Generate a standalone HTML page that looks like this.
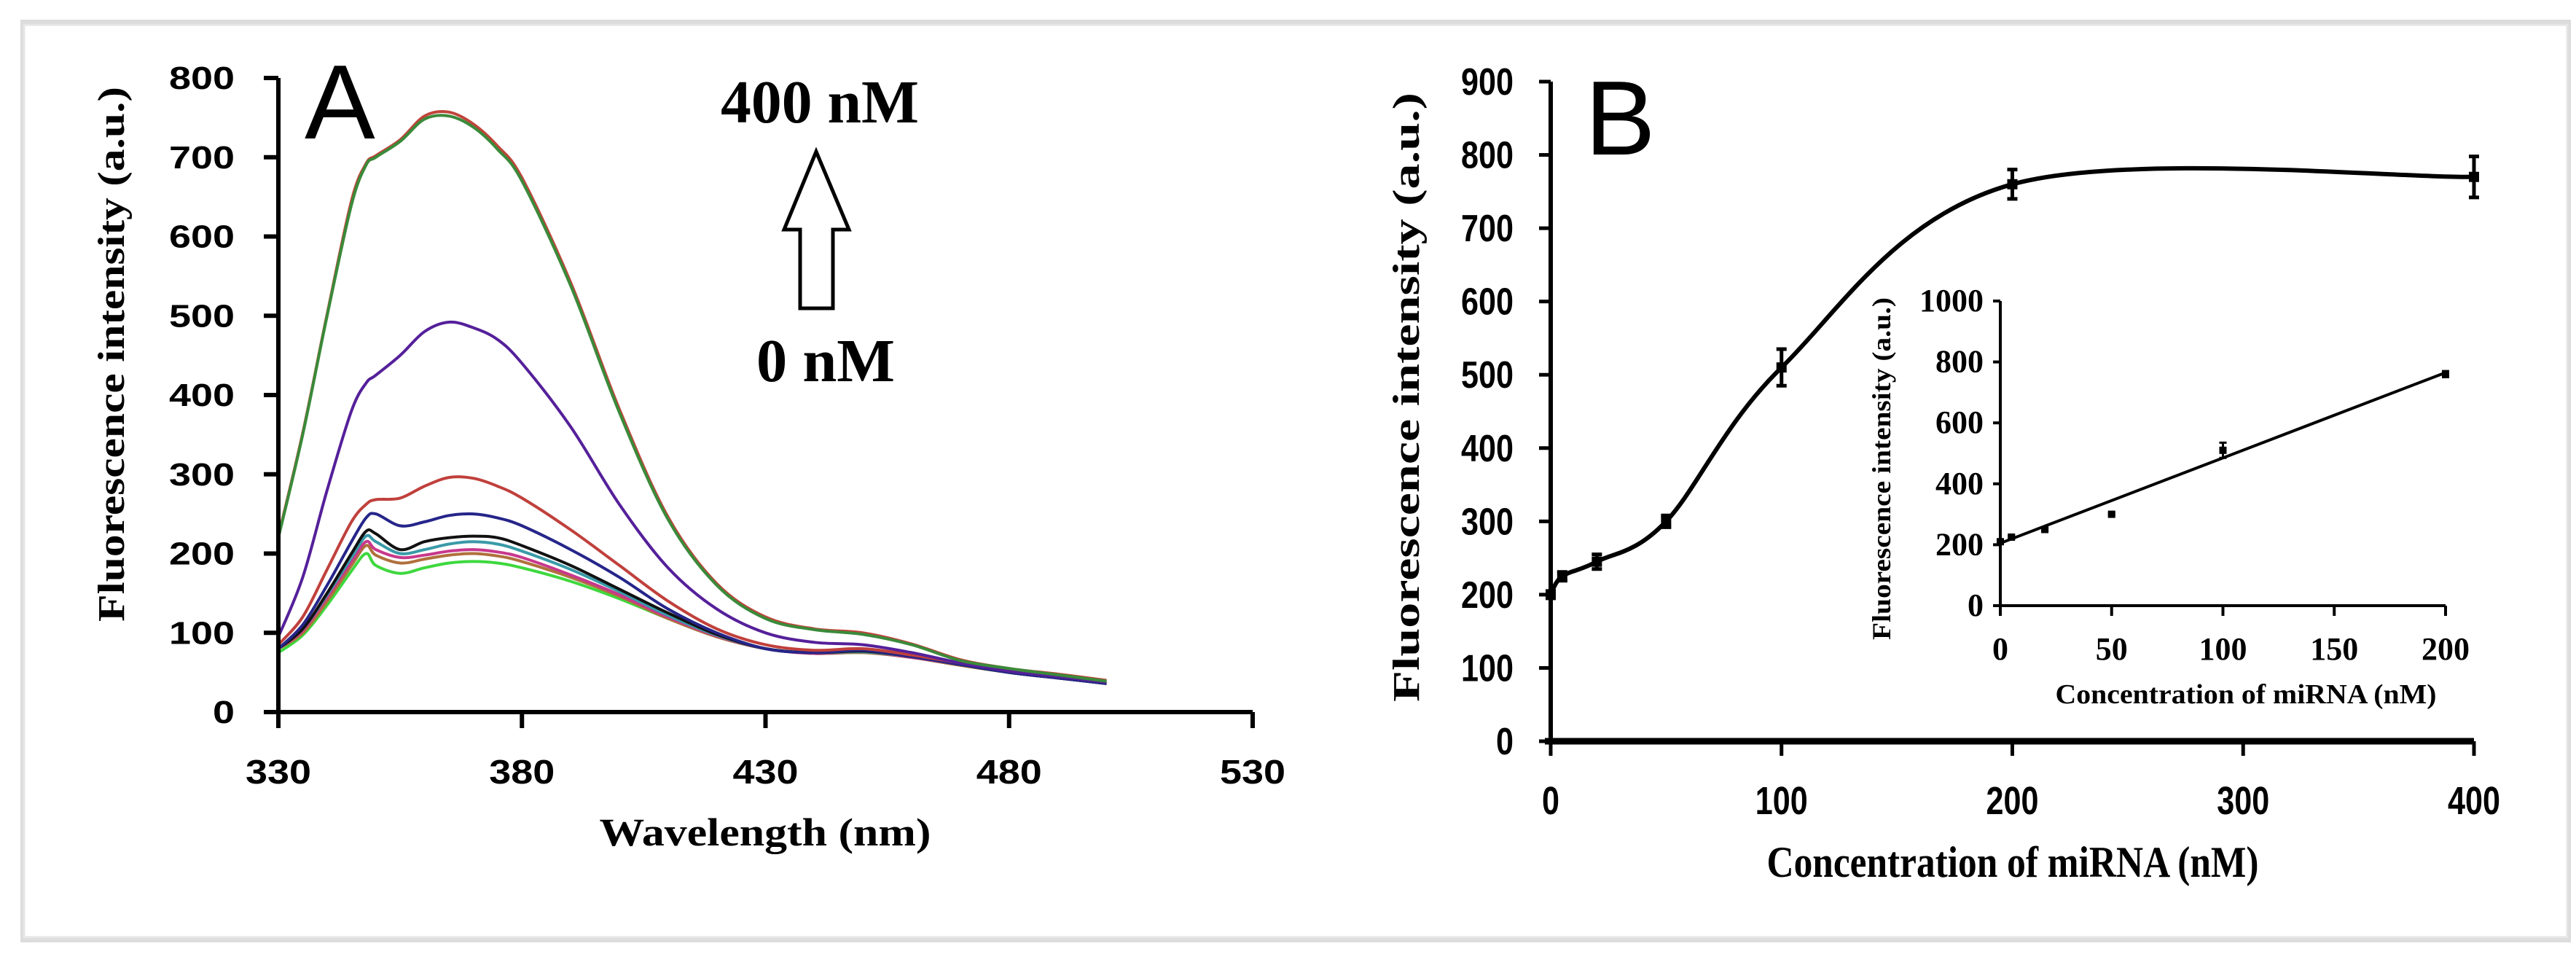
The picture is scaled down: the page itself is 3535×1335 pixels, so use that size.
<!DOCTYPE html>
<html><head><meta charset="utf-8"><style>
html,body{margin:0;padding:0;background:#fff;}
svg{display:block;}
</style></head><body>
<svg id="fig" width="3535" height="1335" viewBox="0 0 3535 1335" xmlns="http://www.w3.org/2000/svg">
<rect x="28" y="27" width="3500" height="1266" fill="#dcdcdc"/>
<rect x="33" y="34" width="3490" height="1252" fill="#fff" stroke="#e6e6e6" stroke-width="3"/>
<g id="pa"></g>
<g id="pb"></g>
<g id="pi"></g>
</svg>
<script>
// ---------- Panel A data ----------
const wavelengths=[330,335,340,345,348,350,355,360,365,370,375,380,390,400,410,420,430,440,450,460,470,480,490,500];
const s400=[222,352,502,645,692,702,722,752,757,742,714,674,542,382,246,162,120,105,100,86,66,55,48,40];
const s200=[220,350,500,640,690,700,720,748,752,738,710,670,538,378,243,160,118,104,98,85,65,55,47,39];
const s100=[95,170,280,380,415,425,450,480,492,485,470,440,360,262,182,130,100,88,85,75,62,52,45,38];
const s50=[85,120,180,240,262,268,270,285,296,295,285,270,230,185,140,105,85,78,80,72,62,52,45,38];
const s20=[80,110,160,215,245,250,235,240,248,250,245,235,205,170,130,100,80,75,78,70,60,50,43,36];
const s10=[80,105,150,200,228,225,205,215,220,222,220,210,185,155,125,98,80,75,77,70,60,50,43,36];
const s5=[80,105,148,195,222,215,200,205,212,215,212,203,180,152,122,97,80,75,76,70,60,50,43,36];
const s2=[80,103,145,190,215,205,195,198,203,205,202,195,173,148,120,96,80,74,76,69,60,50,43,36];
const s1=[80,100,140,185,210,198,188,193,198,200,197,190,170,146,118,95,80,74,75,69,59,50,43,36];
const s0=[75,97,135,178,200,185,175,182,188,190,188,182,165,143,118,95,80,74,75,69,59,50,43,36];
const seriesA=[s0,s1,s2,s5,s10,s20,s50,s100,s400,s200];
const seriesNames=['0-nm','1-nm','2-nm','5-nm','10-nm','20-nm','50-nm','100-nm','400-nm','200-nm'];
const colorsA=['#3ed83e','#b0703c','#c8388c','#3a9aa8','#111111','#25258a','#c0403c','#55209a','#c0443a','#3a8a3a'];
const xTicksA=[330,380,430,480,530];
const yTicksA=[0,100,200,300,400,500,600,700,800];
// ---------- Panel B data ----------
const conc=[0,5,20,50,100,200,400];
const intensity=[200,225,245,300,510,760,770];
const errB=[5,6,10,8,25,20,28];
const xTicksB=[0,100,200,300,400];
const yTicksB=[0,100,200,300,400,500,600,700,800,900];
// ---------- Inset data ----------
const concIn=[0,5,20,50,100,200];
const intensityIn=[210,225,250,300,510,760];
const errIn=[4,4,4,4,25,10];
const fitIn=[205,765];
const xTicksIn=[0,50,100,150,200];
const yTicksIn=[0,200,400,600,800,1000];

const NS='http://www.w3.org/2000/svg';
function mk(parent,tag,attrs,text){const e=document.createElementNS(NS,tag);for(const k in attrs)e.setAttribute(k,attrs[k]);if(text!==undefined)e.textContent=text;parent.appendChild(e);return e;}
function smooth(pts){
  let d='M'+pts[0][0].toFixed(1)+' '+pts[0][1].toFixed(1);
  for(let i=0;i<pts.length-1;i++){
    const p0=pts[Math.max(0,i-1)],p1=pts[i],p2=pts[i+1],p3=pts[Math.min(pts.length-1,i+2)];
    const t=0.5;
    const c1=[p1[0]+(p2[0]-p0[0])*t/3,p1[1]+(p2[1]-p0[1])*t/3];
    const c2=[p2[0]-(p3[0]-p1[0])*t/3,p2[1]-(p3[1]-p1[1])*t/3];
    d+=` C${c1[0].toFixed(1)} ${c1[1].toFixed(1)} ${c2[0].toFixed(1)} ${c2[1].toFixed(1)} ${p2[0].toFixed(1)} ${p2[1].toFixed(1)}`;
  }
  return d;
}

// ---------- Panel A ----------
const pa=document.getElementById('pa');
const xA=v=>382+(v-330)*(1719-382)/200;
const yA=v=>977-v*(977-107)/800;
let e;
for(let i=0;i<seriesA.length;i++){
  const d=smooth(wavelengths.map((w,j)=>[xA(w),yA(seriesA[i][j])]));
  e=mk(pa,'path',{d:d,fill:'none',stroke:colorsA[i],'stroke-width':4,'stroke-linejoin':'round'});
  
  
}
e=mk(pa,'path',{d:`M${xA(330)} ${yA(800)} L${xA(330)} ${yA(0)} L${xA(530)} ${yA(0)}`,fill:'none',stroke:'#000','stroke-width':6});

yTicksA.forEach(v=>{
  mk(pa,'line',{x1:xA(330)-20,x2:xA(330),y1:yA(v),y2:yA(v),stroke:'#000','stroke-width':6});
  e=mk(pa,'text',{x:322,y:yA(v)+15,'text-anchor':'end','font-family':'Liberation Sans, sans-serif','font-weight':'bold','font-size':44,textLength:String(v).length*30,lengthAdjust:'spacingAndGlyphs'},String(v));
  
});
xTicksA.forEach(v=>{
  mk(pa,'line',{x1:xA(v),x2:xA(v),y1:yA(0),y2:yA(0)+22,stroke:'#000','stroke-width':6});
  e=mk(pa,'text',{x:xA(v),y:1075,'text-anchor':'middle','font-family':'Liberation Sans, sans-serif','font-weight':'bold','font-size':46,textLength:90,lengthAdjust:'spacingAndGlyphs'},String(v));
  
});
e=mk(pa,'text',{x:1050,y:1160,'text-anchor':'middle','font-family':'Liberation Serif, serif','font-weight':'bold','font-size':54,textLength:455,lengthAdjust:'spacingAndGlyphs'},'Wavelength (nm)');

e=mk(pa,'text',{x:0,y:0,transform:'translate(170,486) rotate(-90)','text-anchor':'middle','font-family':'Liberation Serif, serif','font-weight':'bold','font-size':52,textLength:734,lengthAdjust:'spacingAndGlyphs'},'Fluorescence intensity (a.u.)');

e=mk(pa,'text',{x:418,y:190,'font-family':'Liberation Sans, sans-serif','font-size':145},'A');

e=mk(pa,'text',{x:1261,y:168,'text-anchor':'end','font-family':'Liberation Serif, serif','font-weight':'bold','font-size':84,textLength:272,lengthAdjust:'spacingAndGlyphs'},'400 nM');

e=mk(pa,'text',{x:1038,y:523,'font-family':'Liberation Serif, serif','font-weight':'bold','font-size':84,textLength:190,lengthAdjust:'spacingAndGlyphs'},'0 nM');

e=mk(pa,'path',{d:'M1120 208 L1165 315 L1143 315 L1143 423 L1098 423 L1098 315 L1076 315 Z',fill:'#fff',stroke:'#000','stroke-width':5,'stroke-linejoin':'miter'});


// ---------- Panel B ----------
const pb=document.getElementById('pb');
const xB=v=>2128+v*(3395-2128)/400;
const yB=v=>1017-v*(1017-112)/900;
e=mk(pb,'path',{d:smooth(conc.map((c,i)=>[xB(c),yB(intensity[i])])),fill:'none',stroke:'#000','stroke-width':6});

conc.forEach((c,i)=>{
  const x=xB(c),y=yB(intensity[i]),h=errB[i]*(1017-112)/900;
  e=mk(pb,'path',{d:`M${x} ${y-h} L${x} ${y+h} M${x-7} ${y-h} L${x+7} ${y-h} M${x-7} ${y+h} L${x+7} ${y+h}`,stroke:'#000','stroke-width':5,fill:'none'});
  
  e=mk(pb,'rect',{x:x-7,y:y-7,width:14,height:14,fill:'#000'});
  
});
e=mk(pb,'path',{d:`M${xB(0)} ${yB(900)} L${xB(0)} ${yB(0)} L${xB(400)} ${yB(0)}`,fill:'none',stroke:'#000','stroke-width':6});

mk(pb,'line',{x1:xB(0)-8,x2:xB(400),y1:yB(0),y2:yB(0),stroke:'#000','stroke-width':9});
yTicksB.forEach(v=>{
  mk(pb,'line',{x1:xB(0)-16,x2:xB(0),y1:yB(v),y2:yB(v),stroke:'#000','stroke-width':5});
  e=mk(pb,'text',{x:2077,y:yB(v)+18,'text-anchor':'end','font-family':'Liberation Sans, sans-serif','font-weight':'bold','font-size':52,textLength:String(v).length*24,lengthAdjust:'spacingAndGlyphs'},String(v));
  
});
xTicksB.forEach(v=>{
  mk(pb,'line',{x1:xB(v),x2:xB(v),y1:yB(0),y2:yB(0)+20,stroke:'#000','stroke-width':5});
  e=mk(pb,'text',{x:xB(v),y:1117,'text-anchor':'middle','font-family':'Liberation Sans, sans-serif','font-weight':'bold','font-size':54,textLength:String(v).length*24,lengthAdjust:'spacingAndGlyphs'},String(v));
  
});
e=mk(pb,'text',{x:2762,y:1203,'text-anchor':'middle','font-family':'Liberation Serif, serif','font-weight':'bold','font-size':60,textLength:675,lengthAdjust:'spacingAndGlyphs'},'Concentration of miRNA (nM)');

e=mk(pb,'text',{x:0,y:0,transform:'translate(1947,545) rotate(-90)','text-anchor':'middle','font-family':'Liberation Serif, serif','font-weight':'bold','font-size':52,textLength:836,lengthAdjust:'spacingAndGlyphs'},'Fluorescence intensity (a.u.)');

e=mk(pb,'text',{x:2175,y:212,'font-family':'Liberation Sans, sans-serif','font-size':145},'B');


// ---------- Inset ----------
const pi=document.getElementById('pi');
const xI=v=>2745+v*(3356-2745)/200;
const yI=v=>831-v*(831-413)/1000;
e=mk(pi,'line',{x1:xI(0),y1:yI(fitIn[0]),x2:xI(200),y2:yI(fitIn[1]),stroke:'#000','stroke-width':4});

concIn.forEach((c,i)=>{
  const x=xI(c),y=yI(intensityIn[i]),h=errIn[i]*(831-413)/1000;
  e=mk(pi,'path',{d:`M${x} ${y-h} L${x} ${y+h} M${x-5} ${y-h} L${x+5} ${y-h} M${x-5} ${y+h} L${x+5} ${y+h}`,stroke:'#000','stroke-width':3,fill:'none'});
  
  e=mk(pi,'rect',{x:x-5,y:y-5,width:10,height:10,fill:'#000'});
  
});
e=mk(pi,'path',{d:`M${xI(0)} ${yI(1000)} L${xI(0)} ${yI(0)} L${xI(200)} ${yI(0)}`,fill:'none',stroke:'#000','stroke-width':4});

yTicksIn.forEach(v=>{
  mk(pi,'line',{x1:xI(0)-10,x2:xI(0),y1:yI(v),y2:yI(v),stroke:'#000','stroke-width':4});
  e=mk(pi,'text',{x:2722,y:yI(v)+14,'text-anchor':'end','font-family':'Liberation Serif, serif','font-weight':'bold','font-size':44,textLength:String(v).length*22,lengthAdjust:'spacingAndGlyphs'},String(v));
  
});
xTicksIn.forEach(v=>{
  mk(pi,'line',{x1:xI(v),x2:xI(v),y1:yI(0),y2:yI(0)+14,stroke:'#000','stroke-width':4});
  e=mk(pi,'text',{x:xI(v),y:905,'text-anchor':'middle','font-family':'Liberation Serif, serif','font-weight':'bold','font-size':44,textLength:String(v).length*22,lengthAdjust:'spacingAndGlyphs'},String(v));
  
});
e=mk(pi,'text',{x:3082,y:965,'text-anchor':'middle','font-family':'Liberation Serif, serif','font-weight':'bold','font-size':38,textLength:523,lengthAdjust:'spacingAndGlyphs'},'Concentration of miRNA (nM)');

e=mk(pi,'text',{x:0,y:0,transform:'translate(2594,643) rotate(-90)','text-anchor':'middle','font-family':'Liberation Serif, serif','font-weight':'bold','font-size':36,textLength:470,lengthAdjust:'spacingAndGlyphs'},'Fluorescence intensity (a.u.)');

</script>
</body></html>
